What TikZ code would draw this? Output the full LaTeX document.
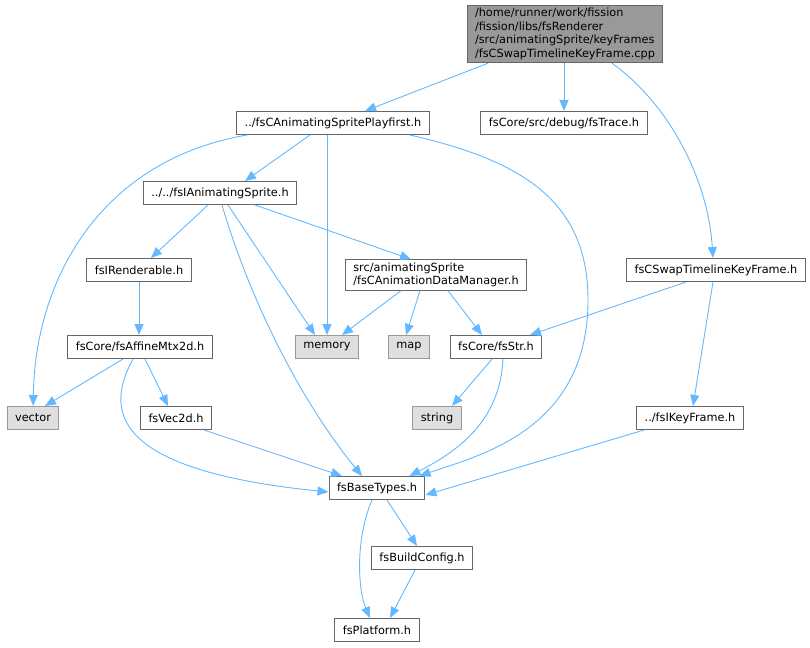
\documentclass[tikz,border=0pt]{standalone}
\usepackage{fontspec}
\setmainfont{DejaVu Sans}
\usepackage{tikz}
\usetikzlibrary{arrows.meta}
\definecolor{edgeblue}{HTML}{63B8FF}
\definecolor{boxline}{HTML}{666666}
\definecolor{extline}{HTML}{999999}
\definecolor{extfill}{HTML}{DFDFDF}

\begin{document}
\begin{tikzpicture}[x=1pt, y=-1pt,
	every node/.style={draw=boxline, fill=white, line width=1pt, minimum height=23pt, inner xsep=8pt, inner ysep=3pt, font=\fontsize{11.3}{13.5}\selectfont, align=left},
	sysbox/.style={draw=extline, fill=extfill},
	rootbox/.style={fill=extline},
	edge/.style={draw=edgeblue, line width=0.9pt, -{Triangle[length=11pt,width=9pt]}}]
			\useasboundingbox (0,0) rectangle (810,647);
			\node[rootbox](root) at (565, 34) {/home/runner/work/fission\\/fission/libs/fsRenderer\\/src/animatingSprite/keyFrames\\/fsCSwapTimelineKeyFrame.cpp};
			\node(playfirst) at (333, 123) {../fsCAnimatingSpritePlayfirst.h};
			\node(trace) at (564, 123) {fsCore/src/debug/fsTrace.h};
			\node(sprite) at (220, 193) {../../fsIAnimatingSprite.h};
			\node(renderable) at (139, 270) {fsIRenderable.h};
			\node(datamgr) at (436, 275) {src/animatingSprite\\/fsCAnimationDataManager.h};
			\node(swap) at (716, 270) {fsCSwapTimelineKeyFrame.h};
			\node(affine) at (140, 347) {fsCore/fsAffineMtx2d.h};
			\node[sysbox](memory) at (327, 347) {memory};
			\node[sysbox](map) at (409, 347) {map};
			\node(str) at (496, 347) {fsCore/fsStr.h};
			\node[sysbox](vector) at (33, 418) {vector};
			\node(vec2d) at (176, 418) {fsVec2d.h};
			\node[sysbox](string) at (437, 418) {string};
			\node(keyframe) at (690, 418) {../fsIKeyFrame.h};
			\node(basetypes) at (377, 488) {fsBaseTypes.h};
			\node(buildcfg) at (422, 558) {fsBuildConfig.h};
			\node(platform) at (377, 630) {fsPlatform.h};
			% from the cpp file
			\draw[edge] ([xshift=-77pt]root.south) -- ([xshift=32pt]playfirst.north);
			\draw[edge] (trace.north |- root.south) -- (trace);
			\draw[edge] ([xshift=47pt]root.south) .. controls (670,105) and (708,180) .. ([xshift=-3pt]swap.north);
			% playfirst
			\draw[edge] ([xshift=-23pt]playfirst.south) -- ([xshift=25pt]sprite.north);
			\draw[edge] (playfirst.south -| memory.north) -- (memory);
			\draw[edge] ([xshift=11pt]playfirst.south west) .. controls (100,160) and (35,280) .. (vector);
			\draw[edge] ([xshift=-20pt]playfirst.south east) .. controls (520,160) and (588,200) .. (588,300) .. controls (588,430) and (480,455) .. ([xshift=-6pt]basetypes.north east);
			% ../../fsIAnimatingSprite.h
			\draw[edge] ([xshift=-12pt]sprite.south) -- ([xshift=12pt]renderable.north);
			\draw[edge] ([xshift=8pt]sprite.south) -- ([xshift=-12pt]memory.north);
			\draw[edge] ([xshift=2pt]sprite.south) .. controls (250,300) and (300,400) .. ([xshift=-15pt]basetypes.north);
			\draw[edge] ([xshift=35pt]sprite.south) -- ([xshift=-25pt]datamgr.north);
			\draw[edge] (renderable) -- (renderable |- affine.north);
			% fsCore/fsAffineMtx2d.h
			\draw[edge] ([xshift=-17pt]affine.south) -- ([xshift=12pt]vector.north);
			\draw[edge] ([xshift=5pt]affine.south) -- ([xshift=-8pt]vec2d.north);
			\draw[edge] ([xshift=-7pt]affine.south) .. controls (105,410) and (110,470) .. ([yshift=-4pt]basetypes.west);
			\draw[edge] ([xshift=-8pt]vec2d.south east) -- ([xshift=-35pt]basetypes.north);
			% src/animatingSprite/fsCAnimationDataManager.h
			\draw[edge] ([xshift=-35pt]datamgr.south) -- ([xshift=15pt]memory.north);
			\draw[edge] ([xshift=-16pt]datamgr.south) -- ([xshift=-3pt]map.north);
			\draw[edge] ([xshift=12pt]datamgr.south) -- ([xshift=-14pt]str.north);
			% fsCore/fsStr.h
			\draw[edge] ([xshift=-4pt]str.south) -- ([xshift=15pt]string.north);
			\draw[edge] ([xshift=7pt]str.south) .. controls (500,420) and (460,450) .. ([xshift=-16pt]basetypes.north east);
			% fsCSwapTimelineKeyFrame.h
			\draw[edge] ([xshift=-30pt]swap.south) -- ([xshift=34pt]str.north);
			\draw[edge] ([xshift=-3pt]swap.south) -- ([xshift=3pt]keyframe.north);
			\draw[edge] ([xshift=8pt]keyframe.south west) -- ([yshift=-7pt]basetypes.east);
			% fsBaseTypes.h
			\draw[edge] ([xshift=10pt]basetypes.south) -- ([xshift=-5pt]buildcfg.north);
			\draw[edge] ([xshift=-5pt]basetypes.south) .. controls (355,540) and (358,590) .. ([xshift=-7pt]platform.north);
			\draw[edge] ([xshift=-7pt]buildcfg.south) -- ([xshift=13pt]platform.north);
		\end{tikzpicture}
\end{document}
